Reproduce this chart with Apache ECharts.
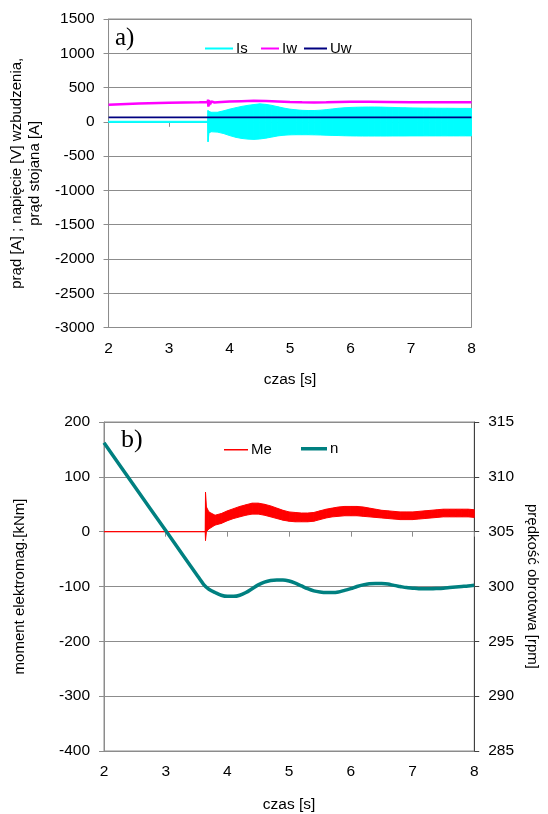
<!DOCTYPE html>
<html><head><meta charset="utf-8">
<script src="https://cdn.jsdelivr.net/npm/echarts@6/dist/echarts.min.js"></script>
<style>html,body{margin:0;padding:0;background:#fff}#c{width:548px;height:814px}</style>
</head><body><div id="c"></div>
<script>
// ---- time base for the fast-oscillating signals (envelope samples) ----
const tEnv = [2.0, 3.64, 3.645, 3.66, 3.7,
  3.8, 3.9, 4.0, 4.1, 4.2, 4.3, 4.4, 4.5, 4.6, 4.7,
  4.8, 4.9, 5.0, 5.1, 5.2, 5.3, 5.4, 5.5, 5.6, 5.7,
  5.8, 5.9, 6.0, 6.1, 6.2, 6.3, 6.4, 6.5, 6.6, 6.7,
  6.8, 6.9, 7.0, 7.1, 7.2, 7.3, 7.4, 7.5, 7.6, 7.7,
  7.8, 7.9, 8.0];
// Is (stator current) upper / lower envelope [A]
const isUpper = [8, 8, 165, 150, 140,
  140, 160, 185, 205, 225, 240, 252, 262, 255, 240,
  220, 200, 185, 175, 168, 165, 165, 170, 178, 188,
  198, 205, 210, 213, 215, 216, 216, 215, 212, 210,
  207, 205, 203, 202, 200, 200, 199, 198, 198, 197,
  196, 196, 195];
const isLower = [-8, -8, -290, -160, -145,
  -150, -170, -200, -225, -242, -252, -256, -250, -238, -222,
  -205, -195, -190, -188, -188, -188, -190, -192, -195, -198,
  -200, -203, -205, -206, -207, -207, -207, -207, -207, -206,
  -206, -206, -205, -205, -205, -205, -205, -205, -205, -205,
  -205, -205, -205];
// Me (electromagnetic torque) upper / lower envelope [kNm]
const meUpper = [0, 0, 72, 45, 36,
  30, 33, 38, 42, 46, 49, 52, 52, 50, 47,
  43, 39, 36, 35, 34, 34, 35, 38, 41, 43,
  45, 46, 46, 46, 45, 43, 41, 39, 38, 37,
  36, 36, 36, 37, 38, 39, 40, 41, 41, 41,
  41, 41, 40];
const meLower = [0, 0, -16, 0, 5,
  12, 15, 20, 24, 27, 30, 32, 32, 30, 27,
  24, 21, 19, 18, 18, 18, 19, 22, 25, 27,
  28, 29, 29, 29, 28, 27, 26, 25, 24, 23,
  22, 22, 22, 23, 24, 25, 26, 27, 27, 27,
  27, 27, 26];
// Iw (field current)
const iwTime = [2.0, 2.5, 3.0, 3.5, 3.64, 3.645, 3.65, 3.655, 3.66, 3.67, 3.68, 3.7, 3.75, 3.8,
  4.0, 4.2, 4.4, 4.6, 4.8, 5.0, 5.2, 5.4, 5.6, 5.8, 6.0, 6.3, 6.6, 7.0, 7.3, 7.6, 8.0];
const iwVals = [248, 268, 280, 287, 290, 325, 222, 318, 238, 308, 258, 298, 282, 286,
  295, 302, 307, 305, 298, 290, 285, 283, 285, 289, 292, 293, 291, 287, 286, 287, 287];
// Uw (field voltage)
const uwTime = [2.0, 3.64, 3.66, 8.0];
const uwVals = [65, 65, 68, 65];
// n (speed) [rpm]
const nTime = [2.0, 2.5, 3.0, 3.3, 3.5, 3.62, 3.7, 3.8, 3.9, 4.0, 4.1, 4.2, 4.3, 4.4, 4.5,
  4.6, 4.7, 4.8, 4.9, 5.0, 5.1, 5.2, 5.3, 5.4, 5.5, 5.6, 5.7, 5.8, 5.9, 6.0,
  6.1, 6.2, 6.3, 6.4, 6.5, 6.6, 6.7, 6.8, 6.9, 7.0, 7.1, 7.2, 7.3, 7.4, 7.5,
  7.6, 7.7, 7.8, 7.9, 8.0];
const nVals = [313.1, 309.1, 305.1, 302.7, 301.1, 300.15, 299.75, 299.45, 299.2, 299.1, 299.1, 299.2, 299.45, 299.8, 300.15,
  300.4, 300.55, 300.6, 300.6, 300.5, 300.3, 300.05, 299.8, 299.6, 299.5, 299.45, 299.45, 299.5, 299.65, 299.8,
  300.0, 300.15, 300.25, 300.28, 300.27, 300.22, 300.1, 300.0, 299.9, 299.85, 299.8, 299.8, 299.8, 299.82, 299.85,
  299.9, 299.95, 300.0, 300.05, 300.12];
// axis ticks
const xTicks = {min: 2, max: 8, interval: 1};
const yTop = {min: -3000, max: 1500, interval: 500};
const yBotL = {min: -400, max: 200, interval: 100};
const yBotR = {min: 285, max: 315, interval: 5};

const F = "'Liberation Sans', Arial, sans-serif";
const GRAY = '#8c8c8c';
const plain = v => String(v);
const zip = (t, v) => t.map((x, i) => [x, v[i]]);
// band segments: [t0, up0, lo0, t1, up1, lo1]
const segs = (u, l) => tEnv.slice(0, -1).map((t, i) => [t, u[i], l[i], tEnv[i + 1], u[i + 1], l[i + 1]]);

function bandSeries(name, xi, yi, u, l, color) {
  return {
    name: name, type: 'custom', xAxisIndex: xi, yAxisIndex: yi, data: segs(u, l),
    itemStyle: {color: color}, encode: {x: [0, 3], y: [1, 2, 4, 5]},
    renderItem: function (params, api) {
      const a = api.coord([api.value(0), api.value(1)]);
      const b = api.coord([api.value(3), api.value(4)]);
      const c = api.coord([api.value(3), api.value(5)]);
      const d = api.coord([api.value(0), api.value(2)]);
      return {type: 'polygon', shape: {points: [a, b, c, d]},
        style: {fill: color, stroke: color, lineWidth: 1}};
    }
  };
}

function xAxes(grid) {
  return [
    {gridIndex: grid, type: 'value', ...xTicks, position: 'bottom',
     axisLine: {show: false, onZero: false}, axisTick: {show: false}, splitLine: {show: false},
     axisLabel: {margin: 13, fontSize: 15.5, color: '#000', fontFamily: F, formatter: plain},
     name: 'czas [s]', nameLocation: 'middle', nameGap: grid === 0 ? 44 : 46,
     nameTextStyle: {fontSize: 15.5, color: '#000', fontFamily: F}},
    {gridIndex: grid, type: 'value', ...xTicks, position: 'bottom',
     axisLine: {show: true, onZero: true, lineStyle: {color: GRAY}},
     axisTick: {show: true, length: 5, lineStyle: {color: GRAY}},
     axisLabel: {show: false}, splitLine: {show: false}}
  ];
}
const yCommon = {
  axisLine: {show: true, lineStyle: {color: GRAY}},
  axisTick: {show: true, length: 5, lineStyle: {color: GRAY}},
  axisLabel: {margin: 14, fontSize: 15.5, color: '#000', fontFamily: F, formatter: plain},
  splitLine: {show: true, lineStyle: {color: GRAY, width: 1}}
};
function leg(name, left, cy, w, h) {
  return {data: [name], left: left, top: cy - h / 2, padding: 0, itemWidth: w, itemHeight: h,
    itemGap: 0, selectedMode: false, icon: 'rect',
    textStyle: {fontSize: 15, color: '#000', fontFamily: F, padding: [0, 0, 0, -2]}};
}

const option = {
  animation: false,
  backgroundColor: '#fff',
  grid: [
    {left: 107, top: 19, width: 364.5, height: 308.5, show: true, borderColor: GRAY, borderWidth: 1},
    {left: 104, top: 422, width: 377, height: 331, show: true, borderColor: GRAY, borderWidth: 1}
  ],
  xAxis: [...xAxes(0), ...xAxes(1)],
  yAxis: [
    {gridIndex: 0, type: 'value', ...yTop, ...yCommon,
     name: 'prąd [A] ; napięcie [V] wzbudzenia,\nprąd stojana [A]', nameLocation: 'middle', nameGap: 61,
     nameTextStyle: {fontSize: 15, lineHeight: 18, color: '#000', fontFamily: F}},
    {gridIndex: 1, type: 'value', ...yBotL, ...yCommon,
     name: 'moment elektromag.[kNm]', nameLocation: 'middle', nameGap: 77,
     nameTextStyle: {fontSize: 15, color: '#000', fontFamily: F}},
    {gridIndex: 1, type: 'value', position: 'right', ...yBotR,
     axisLine: {show: true, lineStyle: {color: '#404040'}},
     axisTick: {show: true, length: 5, lineStyle: {color: '#404040'}},
     axisLabel: {margin: 14, fontSize: 15.5, color: '#000', fontFamily: F, formatter: plain},
     splitLine: {show: false},
     name: 'prędkość obrotowa [rpm]', nameLocation: 'middle', nameGap: 41, nameRotate: -90,
     nameTextStyle: {fontSize: 15, color: '#000', fontFamily: F}}
  ],
  legend: [
    leg('Is', 205, 42, 28, 2),
    leg('Iw', 261, 42, 18, 2),
    leg('Uw', 304, 42, 23, 2),
    leg('Me', 224, 443, 24, 1.5),
    leg('n', 301, 443, 26, 3.5)
  ],
  graphic: [
    {type: 'text', left: 115, top: 26, style: {text: 'a)', font: "25px 'Liberation Serif', 'Times New Roman', serif", fill: '#000'}},
    {type: 'text', left: 121, top: 427, style: {text: 'b)', font: "26px 'Liberation Serif', 'Times New Roman', serif", fill: '#000'}}
  ],
  series: [
    bandSeries('Is', 0, 0, isUpper, isLower, '#00ffff'),
    {name: 'Iw', type: 'line', xAxisIndex: 0, yAxisIndex: 0, data: zip(iwTime, iwVals), symbol: 'none',
     color: '#ff00ff', lineStyle: {color: '#ff00ff', width: 2.5}},
    {name: 'Uw', type: 'line', xAxisIndex: 0, yAxisIndex: 0, data: zip(uwTime, uwVals), symbol: 'none',
     color: '#000080', lineStyle: {color: '#000080', width: 1.6}},
    bandSeries('Me', 2, 1, meUpper, meLower, '#ff0000'),
    {name: 'n', type: 'line', xAxisIndex: 2, yAxisIndex: 2, data: zip(nTime, nVals), symbol: 'none',
     smooth: 0.3, color: '#008080', lineStyle: {color: '#008080', width: 3.5}}
  ]
};
const chart = echarts.init(document.getElementById('c'));
chart.setOption(option);
</script></body></html>
